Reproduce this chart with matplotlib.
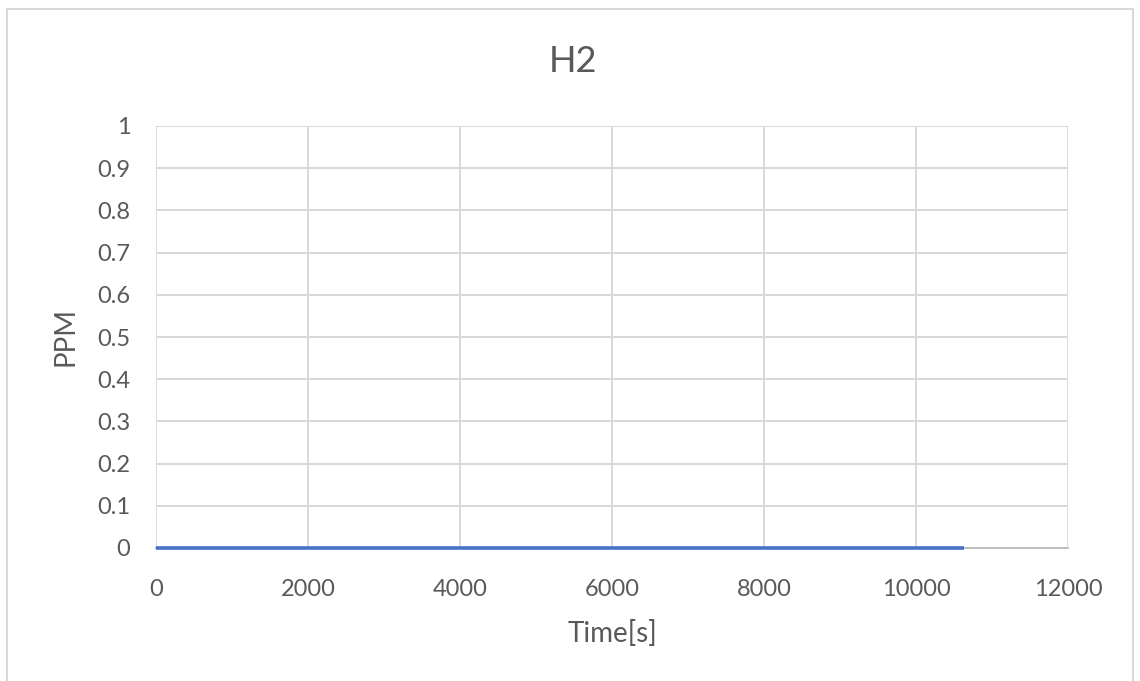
import matplotlib
matplotlib.use("Agg")
import matplotlib.pyplot as plt
from matplotlib.patches import Rectangle

# Measured H2 concentration over the run
time_s = [0, 2000, 4000, 6000, 8000, 10000, 10630]
h2_ppm = [0, 0, 0, 0, 0, 0, 0]

x_ticks = [0, 2000, 4000, 6000, 8000, 10000, 12000]
y_ticks = [0, 0.1, 0.2, 0.3, 0.4, 0.5, 0.6, 0.7, 0.8, 0.9, 1]
y_tick_labels = ["0", "0.1", "0.2", "0.3", "0.4", "0.5", "0.6", "0.7", "0.8", "0.9", "1"]

plt.rcParams["font.family"] = ["Lato", "DejaVu Sans"]
text_color = "#595959"
grid_color = "#d9d9d9"
W, H = 1140, 681

fig = plt.figure(figsize=(W / 100, H / 100), dpi=100)
fig.patch.set_facecolor("white")

# Chart frame
fig.patches.append(Rectangle((7 / W, -0.05), (1133 - 7) / W, 1.05 - 9 / H,
                             transform=fig.transFigure, fill=False,
                             edgecolor=grid_color, linewidth=1.5))

ax = fig.add_axes([156 / W, 1 - 548 / H, (1068 - 156) / W, (548 - 126) / H])
ax.plot(time_s, h2_ppm, color="#4472C4", linewidth=2.6, solid_capstyle="butt", zorder=3,
        clip_on=False)

ax.set_xlim(0, 12000)
ax.set_ylim(0, 1)
ax.set_xticks(x_ticks)
ax.set_yticks(y_ticks)
ax.set_yticklabels(y_tick_labels)
ax.grid(True, color=grid_color, linewidth=1.4)
ax.set_axisbelow(True)
for side in ["top", "right", "left"]:
    ax.spines[side].set_visible(False)
ax.spines["bottom"].set_color("#bfbfbf")
ax.spines["bottom"].set_linewidth(1.4)
ax.tick_params(length=0, labelsize=17, colors=text_color)
ax.tick_params(axis="x", pad=22.5)
ax.tick_params(axis="y", pad=18.5)

# Axis titles and chart title
fig.text(612 / W, 1 - 633 / H, "Time[s]", fontsize=20, color=text_color,
         ha="center", va="center")
fig.text(66 / W, 1 - 336 / H, "PPM", fontsize=20, color=text_color,
         ha="center", va="center", rotation=90)
fig.text(573 / W, 1 - 61 / H, "H2", fontsize=26, color=text_color,
         ha="center", va="center")

fig.savefig("out.png", dpi=100)
